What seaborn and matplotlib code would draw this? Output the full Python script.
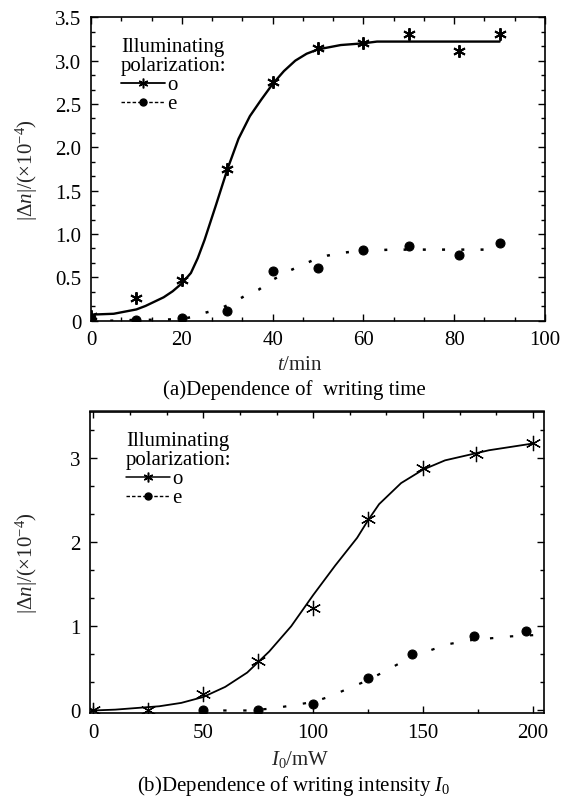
import matplotlib
matplotlib.use('Agg')
import matplotlib.pyplot as plt
import seaborn as sns
from matplotlib.ticker import MultipleLocator, AutoMinorLocator
from matplotlib.lines import Line2D

# ---------------- (a) dependence on writing time ----------------
t_o = [0, 10, 20, 30, 40, 50, 60, 70, 81, 90]
dn_t_o = [0.05, 0.26, 0.47, 1.75, 2.75, 3.15, 3.20, 3.31, 3.11, 3.31]
t_e = [0, 10, 20, 30, 40, 50, 60, 70, 81, 90]
dn_t_e = [0.03, 0.01, 0.03, 0.11, 0.57, 0.61, 0.82, 0.86, 0.76, 0.90]
fit_t_o = [0, 5, 10, 12, 16, 18, 20, 22, 23.5, 25, 27.5, 30, 32.5, 35, 37.5,
           40, 42.5, 45, 47.5, 50, 55, 60, 63, 90]
fit_dn_t_o = [0.07, 0.08, 0.13, 0.17, 0.27, 0.34, 0.43, 0.55, 0.72, 0.93, 1.33,
              1.74, 2.10, 2.36, 2.55, 2.73, 2.88, 3.00, 3.08, 3.13, 3.18, 3.20,
              3.22, 3.22]
fit_t_e = [0, 5, 10, 15, 20, 22, 25, 28, 31, 34, 37, 40, 43, 46, 49, 52, 55,
           58, 62, 66, 70, 90]
fit_dn_t_e = [0.0, 0.0, 0.01, 0.01, 0.02, 0.04, 0.09, 0.13, 0.20, 0.29, 0.36,
              0.47, 0.56, 0.63, 0.70, 0.75, 0.78, 0.80, 0.81, 0.82, 0.82, 0.82]
yticks_a = [0, 0.5, 1.0, 1.5, 2.0, 2.5, 3.0, 3.5]
yticklabels_a = ['0', '0.5', '1.0', '1.5', '2.0', '2.5', '3.0', '3.5']
xticks_a = [0, 20, 40, 60, 80, 100]

# ---------------- (b) dependence on writing intensity ----------------
I_o = [0, 25, 50, 75, 100, 125, 150, 174, 200]
dn_I_o = [0.0, 0.01, 0.20, 0.59, 1.22, 2.27, 2.88, 3.05, 3.18]
I_e = [50, 75, 100, 125, 145, 173, 197]
dn_I_e = [0.0, 0.01, 0.08, 0.38, 0.67, 0.88, 0.94]
fit_I_o = [0, 10, 20, 30, 40, 50, 60, 70, 80, 90, 100, 110, 120, 125, 130,
           140, 150, 160, 170, 175, 180, 190, 200]
fit_dn_I_o = [0.0, 0.01, 0.03, 0.05, 0.09, 0.16, 0.28, 0.45, 0.70, 1.00, 1.37,
              1.72, 2.05, 2.26, 2.45, 2.70, 2.86, 2.97, 3.03, 3.06, 3.09, 3.13,
              3.17]
fit_I_e = [50, 60, 70, 80, 88, 95, 100, 108, 115, 125, 135, 145, 155, 162,
           173, 182, 190, 204]
fit_dn_I_e = [0.0, 0.0, 0.0, 0.02, 0.05, 0.08, 0.10, 0.17, 0.25, 0.36, 0.50,
              0.64, 0.73, 0.79, 0.84, 0.86, 0.88, 0.90]
yticks_b = [0, 1, 2, 3]
xticks_b = [0, 50, 100, 150, 200]

legend_title = 'Illuminating\npolarization:'
legend_labels = ['o', 'e']

# ---------------- styling ----------------
sns.set_style('ticks')
plt.rcParams['font.family'] = ['Liberation Serif', 'DejaVu Serif']
plt.rcParams['mathtext.fontset'] = 'custom'
plt.rcParams['mathtext.rm'] = 'Liberation Serif'
plt.rcParams['mathtext.it'] = 'Liberation Serif:italic'
plt.rcParams['mathtext.bf'] = 'Liberation Serif:bold'
plt.rcParams['text.color'] = 'black'

FS = 15
W, H = 568, 804
fig = plt.figure(figsize=(W / 100, H / 100), dpi=100)
fig.patch.set_facecolor('white')

ax1 = fig.add_axes([91 / W, 1 - 321.7 / H, 454 / W, (321.7 - 18.3) / H])
ax2 = fig.add_axes([90 / W, 1 - 714 / H, 454 / W, (714 - 412.5) / H])

ASTER = (6, 2, 0)


def base_style(ax):
    ax.set_facecolor('white')
    for s in ax.spines.values():
        s.set_linewidth(1.2)
        s.set_color('black')
    ax.tick_params(which='both', direction='in', top=True, right=True,
                   colors='black', labelsize=FS, width=1.0)
    ax.tick_params(which='major', length=5, pad=7)
    ax.tick_params(which='minor', length=3)


def add_legend(ax, anchor, lw_o, lw_e):
    h_o = Line2D([], [], color='black', lw=lw_o, marker=ASTER, ms=7, mew=1.1,
                 mec='black')
    h_e = Line2D([], [], color='black', lw=lw_e, ls=(0, (2.5, 1.5)),
                 marker='o', ms=5, mec='black')
    leg = ax.legend([h_o, h_e], legend_labels, title=legend_title,
                    loc='upper left', bbox_to_anchor=anchor, frameon=False,
                    fontsize=FS, title_fontsize=FS, handlelength=2.1,
                    handletextpad=0.1, labelspacing=0.0, borderpad=0,
                    borderaxespad=0, alignment='left', handleheight=0.5)
    leg.get_title().set_linespacing(1.0)
    return leg


# ---------- panel (a) ----------
sns.lineplot(x=fit_t_o, y=fit_dn_t_o, ax=ax1, color='black', lw=1.7,
             estimator=None, sort=False)
sns.lineplot(x=fit_t_e, y=fit_dn_t_e, ax=ax1, color='black', lw=1.8,
             linestyle=(0, (1.2, 6.5)), estimator=None, sort=False)
sns.lineplot(x=t_o, y=dn_t_o, ax=ax1, color='black', linestyle='none',
             marker=ASTER, markersize=9, markeredgewidth=1.4,
             markeredgecolor='black', estimator=None, sort=False)
sns.lineplot(x=t_e, y=dn_t_e, ax=ax1, color='black', linestyle='none',
             marker='o', markersize=6.5, markeredgecolor='black',
             estimator=None, sort=False)

base_style(ax1)
ax1.set_xlim(0, 100)
ax1.set_ylim(0, 3.5)
ax1.set_xticks(xticks_a)
ax1.set_yticks(yticks_a, labels=yticklabels_a)
ax1.xaxis.set_minor_locator(AutoMinorLocator(3))
ax1.yaxis.set_minor_locator(AutoMinorLocator(3))
ax1.set_xlabel(r'$t$/min', fontsize=FS)
ax1.xaxis.set_label_coords((300 - 91) / 454, -(366 - 321.7) / 303.4)
ax1.xaxis.label.set_va('center')
ax1.set_ylabel(r'$|\Delta n|/(\times10^{-4})$', fontsize=FS)
ax1.yaxis.set_label_coords((27 - 91) / 454, 0.5)
ax1.yaxis.label.set_va('center')
add_legend(ax1, (30 / 454, 1 - 20 / 303.4), 1.3, 1.0)
fig.text(294 / W, 1 - 390 / H, '(a)Dependence of  writing time',
         ha='center', va='center', fontsize=FS)

# ---------- panel (b) ----------
sns.lineplot(x=fit_I_o, y=fit_dn_I_o, ax=ax2, color='black', lw=1.3,
             estimator=None, sort=False)
sns.lineplot(x=fit_I_e, y=fit_dn_I_e, ax=ax2, color='black', lw=1.6,
             linestyle=(0, (1.5, 7.5)), estimator=None, sort=False)
sns.lineplot(x=I_o, y=dn_I_o, ax=ax2, color='black', linestyle='none',
             marker=ASTER, markersize=11, markeredgewidth=0.9,
             markeredgecolor='black', estimator=None, sort=False)
sns.lineplot(x=I_e, y=dn_I_e, ax=ax2, color='black', linestyle='none',
             marker='o', markersize=6.5, markeredgecolor='black',
             estimator=None, sort=False)

base_style(ax2)
ax2.tick_params(which='both', top=False)
ax2.set_xlim(-1.5, 205)
ax2.set_ylim(-0.03, 3.55)
ax2.set_xticks(xticks_b)
ax2.set_yticks(yticks_b)
ax2.xaxis.set_minor_locator(MultipleLocator(25))
ax2.yaxis.set_minor_locator(AutoMinorLocator(3))
sec = ax2.secondary_xaxis('top')
sec.set_xticks(xticks_b)
sec.xaxis.set_minor_locator(AutoMinorLocator(3))
sec.tick_params(which='both', direction='in', labeltop=False, width=1.0,
                colors='black')
sec.tick_params(which='major', length=5)
sec.tick_params(which='minor', length=3)
sec.spines['top'].set_linewidth(1.2)
ax2.set_xlabel(r'$I_0$/mW', fontsize=FS)
ax2.xaxis.set_label_coords((300 - 90) / 454, -(760 - 714) / 301.5)
ax2.xaxis.label.set_va('center')
ax2.set_ylabel(r'$|\Delta n|/(\times10^{-4})$', fontsize=FS)
ax2.yaxis.set_label_coords((27 - 90) / 454, 0.5)
ax2.yaxis.label.set_va('center')
add_legend(ax2, (36 / 454, 1 - 20 / 301.5), 1.1, 1.0)
fig.text(294 / W, 1 - 786 / H, r'(b)Dependence of writing intensity $I_0$',
         ha='center', va='center', fontsize=FS)

fig.savefig('out.png', dpi=100, facecolor='white')
